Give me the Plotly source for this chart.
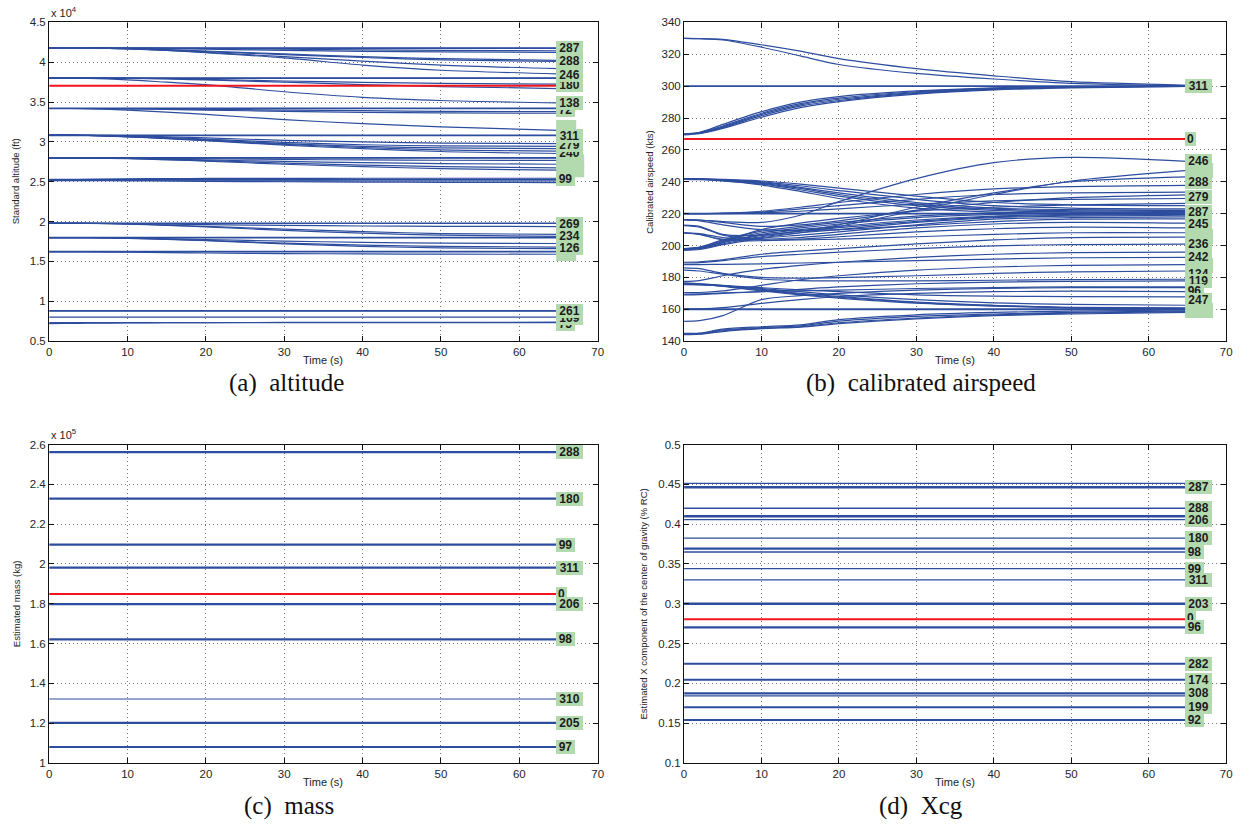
import plotly.graph_objects as go

W, H = 1254, 830

# ---------------- data ----------------
TIME = [0, 2, 5, 10, 15, 20, 30, 40, 50, 65]
TIME_FLAT = [0, 65]

# (a) standard altitude, ft
ALT_REF = [37040, 37040, 37040, 37040, 37040, 37040, 37040, 37040, 37040, 37040]
ALT_TRAJ = [
    [41800, 41800, 41800, 41800, 41800, 41800, 41800, 41800, 41800, 41800],
    [41740, 41740, 41740, 41740, 41740, 41740, 41740, 41740, 41740, 41740],
    [41800, 41800, 41800, 41790, 41760, 41720, 41640, 41560, 41500, 41450],
    [41800, 41800, 41800, 41780, 41730, 41650, 41500, 41380, 41300, 41250],
    [41800, 41800, 41790, 41700, 41550, 41350, 40950, 40600, 40300, 40100],
    [41800, 41800, 41790, 41720, 41600, 41420, 41050, 40700, 40450, 40250],
    [41800, 41800, 41790, 41700, 41500, 41250, 40700, 40150, 39650, 39200],
    [41800, 41800, 41780, 41670, 41480, 41200, 40550, 39650, 39000, 38550],
    [38050, 38050, 38050, 38050, 38050, 38050, 38050, 38050, 38050, 38050],
    [37990, 37990, 37990, 37990, 37990, 37990, 37990, 37990, 37990, 37990],
    [38050, 38050, 38050, 38020, 37950, 37850, 37650, 37480, 37350, 37250],
    [38050, 38050, 38040, 37990, 37900, 37780, 37500, 37200, 36950, 36700],
    [38000, 38000, 37980, 37800, 37500, 37200, 36300, 35600, 35200, 34900],
    [34250, 34250, 34250, 34250, 34250, 34250, 34250, 34250, 34250, 34250],
    [34180, 34180, 34180, 34180, 34180, 34180, 34180, 34180, 34180, 34180],
    [34200, 34200, 34200, 34180, 34150, 34100, 34000, 33920, 33850, 33800],
    [34200, 34200, 34190, 34150, 34080, 34000, 33850, 33720, 33650, 33600],
    [34200, 34200, 34180, 34000, 33750, 33450, 32800, 32300, 31900, 31450],
    [30850, 30850, 30850, 30850, 30850, 30850, 30850, 30850, 30850, 30850],
    [30790, 30790, 30790, 30790, 30790, 30790, 30790, 30790, 30790, 30790],
    [30850, 30850, 30840, 30780, 30650, 30500, 30200, 30000, 29850, 29800],
    [30850, 30850, 30830, 30720, 30550, 30350, 29950, 29650, 29500, 29450],
    [30850, 30850, 30820, 30680, 30480, 30250, 29800, 29450, 29250, 29150],
    [30850, 30850, 30820, 30660, 30450, 30200, 29700, 29300, 29000, 28850],
    [30850, 30850, 30810, 30640, 30400, 30150, 29600, 29150, 28800, 28550],
    [28020, 28020, 28020, 28020, 28020, 28020, 28020, 28020, 28020, 28020],
    [27960, 27960, 27960, 27960, 27960, 27960, 27960, 27960, 27960, 27960],
    [28000, 28000, 28000, 27980, 27940, 27890, 27800, 27740, 27700, 27680],
    [28000, 28000, 27990, 27940, 27850, 27750, 27550, 27400, 27280, 27200],
    [28000, 28000, 27990, 27920, 27800, 27660, 27350, 27100, 26900, 26750],
    [28000, 28000, 27980, 27900, 27760, 27600, 27200, 26900, 26650, 26450],
    [25300, 25300, 25300, 25300, 25300, 25300, 25300, 25300, 25300, 25300],
    [25220, 25220, 25220, 25220, 25220, 25220, 25220, 25220, 25220, 25220],
    [25150, 25200, 25300, 25380, 25400, 25420, 25430, 25440, 25440, 25440],
    [25200, 25200, 25190, 25150, 25100, 25050, 25000, 24960, 24930, 24900],
    [25150, 25150, 25150, 25140, 25130, 25120, 25110, 25100, 25100, 25100],
    [19820, 19820, 19820, 19820, 19820, 19820, 19820, 19820, 19820, 19820],
    [19760, 19760, 19760, 19760, 19760, 19760, 19760, 19760, 19760, 19760],
    [19800, 19800, 19790, 19740, 19680, 19620, 19520, 19450, 19400, 19380],
    [19800, 19800, 19790, 19700, 19560, 19400, 19050, 18750, 18500, 18400],
    [19800, 19800, 19780, 19680, 19520, 19330, 18900, 18550, 18300, 18150],
    [18020, 18020, 18020, 18020, 18020, 18020, 18020, 18020, 18020, 18020],
    [17960, 17960, 17960, 17960, 17960, 17960, 17960, 17960, 17960, 17960],
    [18000, 18000, 17990, 17940, 17850, 17750, 17550, 17400, 17300, 17250],
    [18000, 18000, 17990, 17920, 17800, 17650, 17300, 17050, 16900, 16800],
    [18000, 18000, 17980, 17900, 17760, 17600, 17200, 16900, 16700, 16600],
    [16250, 16250, 16250, 16250, 16250, 16250, 16250, 16250, 16250, 16250],
    [16200, 16200, 16200, 16200, 16200, 16200, 16200, 16200, 16200, 16200],
    [16200, 16200, 16190, 16160, 16110, 16060, 15990, 15940, 15910, 15900],
    [8820, 8820, 8820, 8820, 8820, 8820, 8820, 8820, 8820, 8820],
    [8770, 8770, 8770, 8770, 8770, 8770, 8770, 8770, 8770, 8770],
    [8020, 8020, 8020, 8020, 8020, 8020, 8020, 8020, 8020, 8020],
    [7320, 7320, 7320, 7320, 7320, 7320, 7320, 7320, 7320, 7320],
    [7200, 7210, 7240, 7280, 7300, 7320, 7340, 7350, 7360, 7370],
]
# end-of-trajectory run labels (drawing order); boxes whose number is fully hidden
ALT_LABEL_TEXT = ["75", "169", "261", "126", "234", "269", "99",
                  "240", "279", "311", "72", "138", "180", "246", "288", "287"]
ALT_LABEL_Y = [7200, 7900, 8750, 16700, 18200, 19760, 25290,
               28630, 29660, 30770, 33950, 34860, 37170, 38440, 40130, 41780]
ALT_HIDDEN_Y = [16000, 26500, 27500, 31800]
ALT_HIDDEN_DIGITS = [2, 3, 3, 2]
ALT_TICKS = [5000, 10000, 15000, 20000, 25000, 30000, 35000, 40000, 45000]
ALT_TICKTEXT = ["0.5", "1", "1.5", "2", "2.5", "3", "3.5", "4", "4.5"]

# (b) calibrated airspeed, kts
CAS_REF = [266.8, 266.8, 266.8, 266.8, 266.8, 266.8, 266.8, 266.8, 266.8, 266.8]
CAS_TRAJ = [
    [330.0, 329.8, 329.0, 324.5, 319.0, 313.6, 308.0, 304.5, 301.8, 300.3],
    [330.0, 329.9, 329.4, 326.0, 322.0, 317.3, 311.0, 306.5, 302.8, 300.6],
    [300.2, 300.2, 300.2, 300.2, 300.2, 300.2, 300.2, 300.2, 300.2, 300.2],
    [299.8, 299.8, 299.8, 299.8, 299.8, 299.8, 299.8, 299.8, 299.8, 299.8],
    [270.0, 270.5, 274.0, 281.5, 287.5, 291.0, 295.5, 298.0, 299.3, 299.9],
    [270.0, 270.8, 275.0, 283.0, 289.0, 292.5, 296.5, 298.6, 299.6, 300.0],
    [270.0, 271.0, 276.0, 284.0, 290.0, 293.5, 297.0, 299.0, 299.8, 300.1],
    [269.5, 270.2, 273.5, 280.5, 286.5, 290.3, 295.0, 297.7, 299.0, 299.8],
    [269.8, 270.6, 274.5, 282.3, 288.3, 291.8, 296.0, 298.3, 299.5, 300.0],
    [242.0, 241.8, 241.0, 239.5, 236.5, 233.0, 227.0, 223.5, 222.5, 222.0],
    [242.0, 241.7, 240.7, 238.5, 235.0, 231.0, 225.0, 222.0, 221.0, 220.5],
    [241.5, 241.3, 240.5, 238.0, 234.0, 229.5, 223.5, 221.0, 220.0, 219.5],
    [242.0, 241.8, 241.2, 240.0, 237.5, 234.5, 229.0, 225.0, 223.5, 223.0],
    [242.0, 241.9, 241.5, 240.5, 238.5, 236.0, 231.0, 227.0, 225.5, 225.0],
    [241.8, 241.6, 240.9, 239.0, 235.8, 232.0, 226.0, 222.8, 221.8, 221.3],
    [220.2, 220.2, 220.2, 220.2, 220.2, 220.2, 220.2, 220.2, 220.2, 220.2],
    [219.8, 219.8, 219.8, 219.8, 219.8, 219.8, 219.8, 219.8, 219.8, 219.8],
    [220.0, 220.0, 220.0, 220.5, 221.5, 223.0, 226.0, 228.0, 229.0, 229.5],
    [220.0, 220.0, 220.2, 221.0, 223.0, 225.0, 229.0, 232.0, 233.0, 233.5],
    [220.0, 220.0, 220.3, 221.5, 224.0, 227.0, 232.0, 235.5, 237.0, 237.8],
    [198.0, 198.5, 202.0, 207.0, 210.0, 212.0, 216.0, 218.5, 219.5, 220.0],
    [197.5, 198.0, 201.0, 205.5, 208.0, 210.0, 214.5, 217.5, 218.5, 219.0],
    [198.0, 199.0, 203.5, 209.0, 212.0, 214.5, 218.5, 220.5, 221.5, 222.0],
    [197.0, 197.5, 200.5, 204.5, 206.5, 208.5, 213.0, 216.5, 217.5, 218.0],
    [198.0, 198.8, 203.0, 208.0, 211.0, 213.5, 217.5, 219.5, 220.5, 221.0],
    [197.8, 198.3, 202.5, 210.0, 214.0, 217.0, 221.5, 224.0, 225.5, 226.5],
    [197.6, 198.2, 201.8, 206.3, 209.0, 211.2, 215.2, 218.0, 219.0, 219.5],
    [216.3, 216.0, 215.0, 214.5, 219.0, 227.5, 242.0, 252.0, 255.3, 252.8],
    [216.3, 216.0, 214.5, 212.0, 213.0, 215.5, 222.0, 227.0, 230.0, 231.8],
    [212.8, 212.0, 207.0, 206.5, 209.0, 213.0, 224.0, 233.0, 240.0, 243.1],
    [208.0, 207.0, 204.0, 205.0, 208.0, 212.0, 222.0, 232.0, 240.5, 247.2],
    [212.5, 211.5, 206.5, 204.0, 205.0, 207.0, 211.0, 213.5, 214.5, 214.0],
    [207.8, 207.0, 203.5, 203.0, 204.0, 205.5, 208.5, 210.5, 211.5, 211.0],
    [216.0, 215.5, 213.0, 210.0, 209.5, 210.0, 212.5, 215.0, 216.5, 216.7],
    [208.0, 207.5, 205.0, 203.5, 203.5, 204.0, 205.5, 207.0, 208.0, 208.0],
    [189.5, 189.8, 191.0, 194.5, 196.5, 198.0, 201.0, 203.5, 205.0, 205.3],
    [189.0, 189.3, 190.5, 193.0, 194.5, 195.8, 198.0, 199.8, 200.6, 200.8],
    [188.0, 188.0, 188.2, 188.5, 189.0, 189.5, 190.5, 191.5, 192.3, 192.6],
    [186.0, 185.5, 182.5, 180.0, 179.5, 179.8, 181.0, 182.5, 183.5, 184.0],
    [184.5, 184.0, 182.0, 179.0, 178.0, 177.8, 177.8, 178.2, 178.6, 178.8],
    [177.5, 178.0, 181.0, 185.0, 187.5, 189.5, 192.5, 194.5, 195.5, 195.8],
    [176.5, 176.0, 175.0, 172.5, 170.0, 168.0, 164.5, 162.5, 161.0, 160.5],
    [176.0, 175.6, 174.4, 171.5, 169.0, 167.0, 163.8, 162.0, 160.8, 160.2],
    [176.3, 175.9, 174.8, 172.0, 169.5, 167.5, 164.2, 162.3, 161.2, 160.8],
    [175.8, 175.5, 174.5, 173.0, 171.0, 169.0, 166.0, 164.0, 163.0, 162.5],
    [175.5, 175.3, 174.8, 173.5, 172.2, 171.0, 169.0, 168.2, 167.9, 167.8],
    [170.5, 170.5, 171.5, 175.0, 178.5, 181.0, 184.5, 186.5, 187.5, 188.0],
    [169.0, 169.2, 170.0, 171.0, 172.5, 174.0, 176.0, 177.0, 177.5, 177.8],
    [169.5, 169.6, 170.2, 171.0, 171.5, 172.0, 173.0, 173.6, 174.0, 174.0],
    [160.2, 160.2, 160.2, 160.2, 160.2, 160.2, 160.2, 160.2, 160.2, 160.2],
    [159.8, 159.8, 159.8, 159.8, 159.8, 159.8, 159.8, 159.8, 159.8, 159.8],
    [160.2, 160.3, 161.0, 163.7, 166.0, 168.0, 170.0, 171.0, 171.3, 171.0],
    [152.4, 152.8, 156.0, 166.0, 168.5, 170.0, 172.0, 173.0, 173.5, 173.6],
    [144.5, 144.8, 147.0, 148.5, 149.5, 152.5, 155.5, 157.0, 158.0, 159.0],
    [144.2, 144.5, 146.5, 148.0, 149.0, 151.5, 154.5, 156.5, 157.5, 158.5],
    [144.8, 145.0, 147.5, 149.0, 150.2, 153.5, 156.5, 158.0, 158.8, 159.5],
    [144.0, 144.3, 146.0, 147.8, 148.8, 151.0, 154.0, 156.0, 157.0, 158.0],
]
CAS_LABEL_TEXT = ["311", "0", "246", "288", "279", "287", "245", "236",
                  "242", "134", "119", "96", "247"]
CAS_LABEL_Y = [300.2, 266.8, 253.0, 239.6, 230.3, 221.0, 213.6, 200.8,
               192.6, 182.3, 177.5, 171.5, 165.6]
CAS_HIDDEN_Y = [247.0, 205.5, 187.5, 159.2]
CAS_HIDDEN_DIGITS = [3, 3, 3, 3]

# (c) estimated mass, kg
MASS_LABEL_TEXT = ["288", "180", "99", "311", "0", "206", "98", "310", "205", "97"]
MASS_VALUE = [256200, 232800, 209700, 198100, 184900, 179800, 162100, 132100, 120100, 108000]
MASS_TICKS = [100000, 120000, 140000, 160000, 180000, 200000, 220000, 240000, 260000]
MASS_TICKTEXT = ["1", "1.2", "1.4", "1.6", "1.8", "2", "2.2", "2.4", "2.6"]

# (d) estimated Xcg
XCG_LINE_VALUE = [0.4513, 0.4464, 0.4200, 0.4100, 0.4056, 0.3825, 0.3693, 0.3650, 0.3440,
                  0.3300, 0.3000, 0.2703, 0.2245, 0.2044, 0.1874, 0.1841, 0.1700, 0.1540]
XCG_REF = 0.2806
XCG_LABEL_TEXT = ["287", "288", "206", "180", "98", "99", "311", "203", "0", "96",
                  "282", "174", "308", "199", "92"]
XCG_LABEL_Y = [0.4464, 0.4200, 0.4056, 0.3825, 0.3650, 0.3440, 0.3300, 0.3000, 0.2823,
               0.2703, 0.2245, 0.2044, 0.1874, 0.1700, 0.1540]
XCG_TICKS = [0.1, 0.15, 0.2, 0.25, 0.3, 0.35, 0.4, 0.45, 0.5]
XCG_TICKTEXT = ["0.1", "0.15", "0.2", "0.25", "0.3", "0.35", "0.4", "0.45", "0.5"]

# ---------------- styles ----------------
BLUE = "#2d4d9e"
RED = "#f2151c"
GREEN = "#b3daae"
SANS = "Liberation Sans, Arial, sans-serif"
SERIF = "Liberation Serif, Times New Roman, serif"
MASS_LINE_WIDTH = [2.2, 2.2, 2.2, 2.2, 2.0, 2.2, 2.2, 1.1, 2.2, 2.2]
XCG_LINE_WIDTH = [1.2, 2.4, 1.5, 2.4, 1.3, 1.3, 2.4, 1.3, 1.2, 1.2, 2.4, 2.4, 2.0, 2.0,
                  2.4, 1.3, 2.0, 2.0]
BOXW = {1: 11, 2: 19, 3: 27}
BOXH = 15
LABEL_X = 64.7
TRAJ_W = 1.2


def px_x(p):
    return p / W


def px_y(p):
    return 1 - p / H


XA = [px_x(46.5), px_x(599)]
XB = [px_x(686), px_x(1232)]
YT = [px_y(340), px_y(16.7)]
YB = [px_y(768), px_y(445)]

fig = go.Figure()

# (a)
for tr in ALT_TRAJ:
    fig.add_trace(go.Scatter(x=TIME, y=tr, mode="lines", xaxis="x", yaxis="y",
                             line=dict(color=BLUE, width=TRAJ_W, shape="spline", smoothing=0.8),
                             hoverinfo="skip", showlegend=False))
fig.add_trace(go.Scatter(x=TIME, y=ALT_REF, mode="lines", xaxis="x", yaxis="y",
                         line=dict(color=RED, width=2), hoverinfo="skip", showlegend=False))
# (b)
for tr in CAS_TRAJ:
    fig.add_trace(go.Scatter(x=TIME, y=tr, mode="lines", xaxis="x2", yaxis="y2",
                             line=dict(color=BLUE, width=TRAJ_W, shape="spline", smoothing=0.8),
                             hoverinfo="skip", showlegend=False))
fig.add_trace(go.Scatter(x=TIME, y=CAS_REF, mode="lines", xaxis="x2", yaxis="y2",
                         line=dict(color=RED, width=2), hoverinfo="skip", showlegend=False))
# (c)
for lab, v, w in zip(MASS_LABEL_TEXT, MASS_VALUE, MASS_LINE_WIDTH):
    fig.add_trace(go.Scatter(x=TIME_FLAT, y=[v, v], mode="lines", xaxis="x3", yaxis="y3",
                             line=dict(color=RED if lab == "0" else BLUE, width=w),
                             hoverinfo="skip", showlegend=False))
# (d)
for v, w in zip(XCG_LINE_VALUE, XCG_LINE_WIDTH):
    fig.add_trace(go.Scatter(x=TIME_FLAT, y=[v, v], mode="lines", xaxis="x4", yaxis="y4",
                             line=dict(color=BLUE, width=w), hoverinfo="skip", showlegend=False))
fig.add_trace(go.Scatter(x=TIME_FLAT, y=[XCG_REF, XCG_REF], mode="lines", xaxis="x4", yaxis="y4",
                         line=dict(color=RED, width=2), hoverinfo="skip", showlegend=False))


def add_hidden(xref, yref, ys, digits):
    # label boxes whose numbers are covered by neighbouring boxes
    for y, d in zip(ys, digits):
        fig.add_shape(type="rect", xref=xref, yref=yref, xsizemode="pixel", ysizemode="pixel",
                      xanchor=LABEL_X, yanchor=y, x0=0, x1=BOXW[d] + 1,
                      y0=-BOXH / 2, y1=BOXH / 2, fillcolor=GREEN, line=dict(width=0),
                      layer="above")


def add_labels(xref, yref, texts, ys):
    for t, y in zip(texts, ys):
        fig.add_annotation(x=LABEL_X, y=y, xref=xref, yref=yref, xanchor="left",
                           yanchor="middle", showarrow=False, text=f"<b>{t}</b>",
                           bgcolor=GREEN, width=BOXW[len(t)], height=BOXH - 1, borderpad=0,
                           borderwidth=0, align="center", valign="middle",
                           font=dict(family=SANS, size=12, color="#1c1c1c"))


add_hidden("x", "y", ALT_HIDDEN_Y, ALT_HIDDEN_DIGITS)
add_hidden("x2", "y2", CAS_HIDDEN_Y, CAS_HIDDEN_DIGITS)
add_labels("x", "y", ALT_LABEL_TEXT, ALT_LABEL_Y)
add_labels("x2", "y2", CAS_LABEL_TEXT, CAS_LABEL_Y)
add_labels("x3", "y3", MASS_LABEL_TEXT, MASS_VALUE)
add_labels("x4", "y4", XCG_LABEL_TEXT, XCG_LABEL_Y)

tickfont = dict(family=SANS, size=11.5, color="#262626")
GRID = dict(showgrid=True, gridcolor="#7a7a7a", griddash="1px,3px", gridwidth=1)


def xaxis(domain, anchor):
    return dict(domain=domain, anchor=anchor, range=[0, 70],
                tickvals=[0, 10, 20, 30, 40, 50, 60, 70],
                ticks="inside", ticklen=5, tickcolor="#111", showline=True,
                linecolor="#111", linewidth=1.2, mirror="ticks", zeroline=False,
                tickfont=tickfont, fixedrange=True, **GRID)


def yaxis(domain, anchor, rng, tv, tt):
    return dict(domain=domain, anchor=anchor, range=rng, tickvals=tv, ticktext=tt,
                ticks="inside", ticklen=5, tickcolor="#111", showline=True,
                linecolor="#111", linewidth=1.2, mirror="ticks", zeroline=False,
                tickfont=tickfont, fixedrange=True, **GRID)


CAS_TICKS = [140, 160, 180, 200, 220, 240, 260, 280, 300, 320, 340]

fig.update_layout(
    width=W, height=H, margin=dict(l=0, r=0, t=0, b=0),
    paper_bgcolor="white", plot_bgcolor="white", showlegend=False,
    xaxis=xaxis(XA, "y"), yaxis=yaxis(YT, "x", [5000, 45000], ALT_TICKS, ALT_TICKTEXT),
    xaxis2=xaxis(XB, "y2"),
    yaxis2=yaxis(YT, "x2", [140, 340], CAS_TICKS, [str(v) for v in CAS_TICKS]),
    xaxis3=xaxis(XA, "y3"), yaxis3=yaxis(YB, "x3", [100000, 260000], MASS_TICKS, MASS_TICKTEXT),
    xaxis4=xaxis(XB, "y4"), yaxis4=yaxis(YB, "x4", [0.1, 0.5], XCG_TICKS, XCG_TICKTEXT),
)


def paper_text(text, x, y, size, family=SANS, angle=0, color="#222", xanchor="center",
               yanchor="middle"):
    fig.add_annotation(text=text, x=px_x(x), y=px_y(y), xref="paper", yref="paper",
                       showarrow=False, textangle=angle, xanchor=xanchor, yanchor=yanchor,
                       font=dict(family=family, size=size, color=color))


# axis titles
paper_text("Time (s)", 322.7, 359, 11)
paper_text("Time (s)", 959, 359, 11)
paper_text("Time (s)", 322.7, 787, 11)
paper_text("Time (s)", 959, 787, 11)
paper_text("Standard altitude (ft)", 13, 178, 9.5, angle=-90)
paper_text("Calibrated airspeed (kts)", 651, 178, 9.5, angle=-90)
paper_text("Estimated mass (kg)", 13, 606, 9.5, angle=-90)
paper_text("Estimated X component of the center of gravity (% RC)", 645, 607, 9.5, angle=-90)
# exponent labels
paper_text("x 10<sup>4</sup>", 46, 15, 11, xanchor="left", yanchor="bottom")
paper_text("x 10<sup>5</sup>", 46, 443, 11, xanchor="left", yanchor="bottom")
# captions
paper_text("(a)&nbsp; altitude", 286, 383, 25, family=SERIF, color="#111")
paper_text("(b)&nbsp; calibrated airspeed", 925, 383, 25, family=SERIF, color="#111")
paper_text("(c)&nbsp; mass", 288, 812, 25, family=SERIF, color="#111")
paper_text("(d)&nbsp; Xcg", 925, 812, 25, family=SERIF, color="#111")

fig.write_html("out.html")
